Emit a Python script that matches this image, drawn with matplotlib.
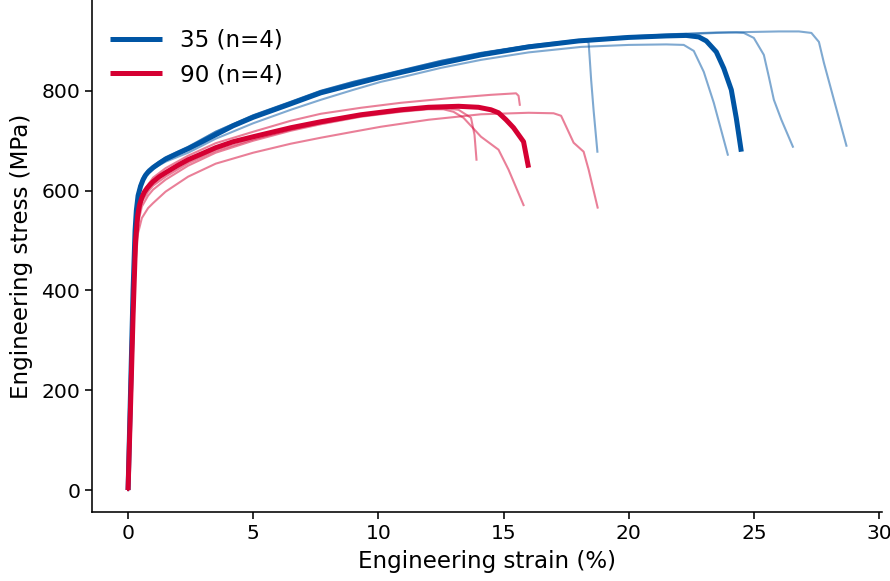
import numpy as np
import matplotlib.pyplot as plt

# 35 group - individual specimens (strain %, stress MPa)
b1_strain = [0, 0.1, 0.2, 0.28, 0.35, 0.45, 0.6, 0.8, 1.0, 1.5, 2.4, 3.5, 5.0, 6.5, 7.7, 9.0, 10.0, 11.0, 12.5, 14.1, 16.0, 17.5, 18.3, 18.4, 18.45, 18.5, 18.6, 18.75]
b1_stress = [0, 200, 400, 525, 578, 608, 628, 642, 650, 667, 688, 718, 751, 778, 800, 818, 830, 842, 860, 876, 890, 898, 900, 896, 860, 822, 760, 678]

b2_strain = [0, 0.1, 0.2, 0.28, 0.35, 0.45, 0.6, 0.8, 1.0, 1.5, 2.4, 3.5, 5.0, 6.5, 7.7, 9.0, 10.1, 11.0, 12.5, 14.1, 16.0, 18.1, 20.0, 21.5, 22.2, 22.6, 23.0, 23.4, 23.96]
b2_stress = [0, 200, 400, 520, 572, 602, 622, 636, 644, 658, 676, 704, 735, 762, 782, 802, 818, 828, 846, 862, 877, 888, 892, 893, 892, 880, 838, 776, 672]

b3_strain = [0, 0.1, 0.2, 0.28, 0.35, 0.45, 0.6, 0.8, 1.0, 1.5, 2.4, 3.5, 5.0, 6.5, 7.7, 9.0, 10.0, 11.0, 12.5, 14.1, 16.0, 18.0, 20.0, 22.0, 23.5, 24.3, 24.6, 25.0, 25.4, 25.6, 25.8, 26.1, 26.56]
b3_stress = [0, 200, 400, 522, 574, 605, 625, 640, 649, 666, 687, 718, 751, 778, 800, 818, 830, 842, 860, 876, 891, 902, 909, 914, 917, 917, 916, 906, 872, 828, 782, 742, 688]

b4_strain = [0, 0.1, 0.2, 0.28, 0.35, 0.45, 0.6, 0.8, 1.0, 1.5, 2.4, 3.5, 5.0, 6.5, 7.7, 9.0, 10.0, 11.0, 12.5, 14.1, 16.0, 18.0, 20.0, 22.0, 24.0, 26.0, 26.8, 27.3, 27.6, 27.8, 28.2, 28.7]
b4_stress = [0, 195, 390, 515, 570, 603, 624, 639, 648, 665, 686, 716, 750, 777, 799, 817, 829, 841, 859, 875, 890, 901, 908, 913, 917, 919, 919, 916, 898, 856, 782, 690]

# 35 group - mean curve
bm_strain = [0, 0.1, 0.2, 0.28, 0.33, 0.4, 0.5, 0.6, 0.7, 0.8, 1.0, 1.25, 1.5, 2.0, 2.4, 3.0, 3.5, 4.2, 5.0, 6.5, 7.7, 9.0, 10.0, 11.0, 12.5, 14.1, 16.0, 18.0, 20.0, 21.5, 22.3, 22.8, 23.1, 23.5, 23.8, 24.1, 24.3, 24.5]
bm_stress = [0, 200, 400, 520, 560, 590, 609, 622, 631, 637, 646, 655, 663, 675, 684, 699, 712, 730, 747, 774, 796, 813, 826, 838, 855, 872, 888, 900, 907, 910, 911, 908, 900, 878, 845, 802, 745, 678]

# 90 group - individual specimens
r1_strain = [0, 0.1, 0.2, 0.3, 0.4, 0.55, 0.8, 1.0, 1.5, 2.4, 3.5, 5.0, 6.5, 7.7, 9.3, 10.9, 13.0, 14.5, 15.5, 15.6, 15.65]
r1_stress = [0, 170, 350, 495, 560, 592, 612, 626, 645, 670, 695, 718, 740, 754, 766, 776, 786, 792, 795, 790, 772]

r2_strain = [0, 0.1, 0.2, 0.3, 0.4, 0.55, 0.8, 1.0, 1.5, 2.4, 3.5, 5.0, 6.5, 7.7, 9.3, 10.9, 12.0, 12.7, 13.2, 13.7, 13.84, 13.92]
r2_stress = [0, 165, 340, 480, 545, 578, 598, 610, 628, 655, 680, 703, 722, 735, 750, 760, 764, 765, 762, 746, 712, 662]

r3_strain = [0, 0.1, 0.2, 0.3, 0.4, 0.55, 0.8, 1.0, 1.5, 2.4, 3.5, 5.0, 6.5, 7.7, 9.3, 10.9, 12.0, 12.6, 13.0, 13.4, 14.1, 14.8, 15.2, 15.8]
r3_stress = [0, 165, 335, 470, 535, 568, 590, 602, 622, 650, 676, 700, 720, 733, 748, 758, 763, 763, 758, 746, 708, 682, 642, 571]

r4_strain = [0, 0.1, 0.2, 0.3, 0.4, 0.55, 0.8, 1.0, 1.5, 2.4, 3.5, 5.0, 6.5, 7.7, 9.0, 10.1, 12.0, 14.1, 16.0, 17.0, 17.3, 17.56, 17.8, 18.2, 18.4, 18.76]
r4_stress = [0, 160, 325, 455, 515, 545, 565, 575, 598, 628, 654, 676, 694, 706, 718, 728, 742, 753, 756, 755, 750, 722, 696, 678, 642, 566]

# 90 group - mean curve
rm_strain = [0, 0.1, 0.2, 0.3, 0.38, 0.45, 0.55, 0.65, 0.76, 0.9, 1.0, 1.25, 1.5, 2.0, 2.4, 3.0, 3.5, 4.2, 5.0, 6.5, 7.7, 9.3, 10.9, 12.0, 13.2, 14.0, 14.5, 14.8, 15.1, 15.4, 15.8, 16.0]
rm_stress = [0, 170, 350, 500, 548, 570, 586, 597, 605, 613, 618, 628, 636, 651, 662, 675, 686, 698, 708, 726, 738, 752, 762, 767, 769, 767, 762, 756, 742, 726, 698, 646]

blue = '#0055A4'
red = '#D50032'

fig = plt.figure(figsize=(8.9, 5.81), dpi=100)
ax = fig.add_axes([0.1034, 0.1188, 0.8876, 0.8812])

for xs, ys in [(b1_strain, b1_stress), (b2_strain, b2_stress), (b3_strain, b3_stress), (b4_strain, b4_stress)]:
    ax.plot(xs, ys, color=blue, lw=1.5, alpha=0.5)
ax.plot(bm_strain, bm_stress, color=blue, lw=3.6, label='35 (n=4)', solid_capstyle='butt')

for xs, ys in [(r1_strain, r1_stress), (r2_strain, r2_stress), (r3_strain, r3_stress), (r4_strain, r4_stress)]:
    ax.plot(xs, ys, color=red, lw=1.5, alpha=0.5)
ax.plot(rm_strain, rm_stress, color=red, lw=3.6, label='90 (n=4)', solid_capstyle='butt')

ax.set_xlim(-1.44, 30.12)
ax.set_ylim(-44, 982)
ax.set_xticks([0, 5, 10, 15, 20, 25, 30])
ax.set_yticks([0, 200, 400, 600, 800])
ax.tick_params(labelsize=14.6, length=5, width=1.15)
for s in ['left', 'bottom']:
    ax.spines[s].set_linewidth(1.15)
ax.spines['top'].set_visible(False)
ax.spines['right'].set_visible(False)

ax.set_xlabel('Engineering strain (%)', fontsize=16.6, labelpad=5)
ax.set_ylabel('Engineering stress (MPa)', fontsize=16.6, labelpad=6)
ax.legend(loc='upper left', bbox_to_anchor=(-0.004, 0.984), frameon=False,
          fontsize=16.6, handlelength=2.26)

plt.savefig('out.png', dpi=100)
